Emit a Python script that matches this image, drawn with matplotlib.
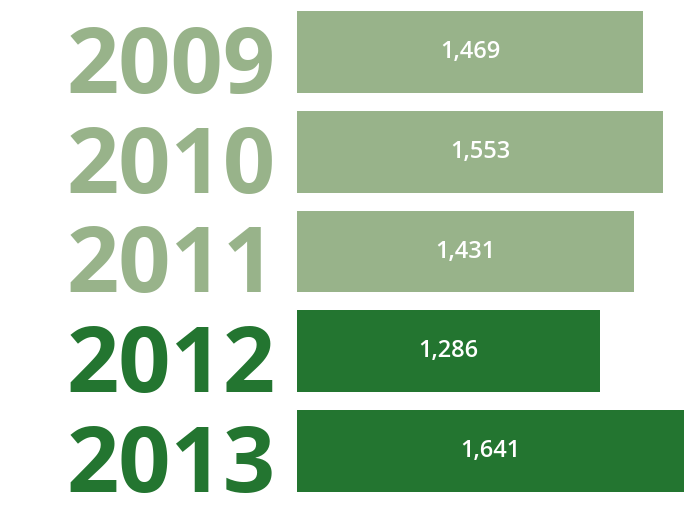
import matplotlib.pyplot as plt
import matplotlib.transforms as mtransforms

years = ['2009', '2010', '2011', '2012', '2013']
values = [1469, 1553, 1431, 1286, 1641]
value_labels = ['1,469', '1,553', '1,431', '1,286', '1,641']

light = '#98b38a'
dark = '#237530'
colors = [light, light, light, dark, dark]

fig = plt.figure(figsize=(6.84, 5.12), dpi=100)
ax = fig.add_axes([297 / 684, 0, 387 / 684, 1])

ypos = list(range(len(years)))
bars = ax.barh(ypos, values, height=0.82, color=colors)

ax.set_xlim(0, max(values))
ax.set_ylim(4.61, -0.52)
ax.axis('off')

# year labels sit left of the bars, baseline on bar bottom
trans = mtransforms.blended_transform_factory(ax.transAxes, ax.transData)
for i, (yr, c) in enumerate(zip(years, colors)):
    ax.text(-0.055, i + 0.41, yr, transform=trans, ha='right', va='baseline',
            fontsize=66, fontweight='bold', color=c, family='Open Sans',
            clip_on=False)

for b, lab in zip(bars, value_labels):
    ax.text(b.get_width() / 2, b.get_y() + b.get_height() / 2, lab,
            ha='center', va='center', color='white', fontsize=17,
            family='Open Sans', fontweight='semibold')

fig.savefig('out.png', dpi=100)
